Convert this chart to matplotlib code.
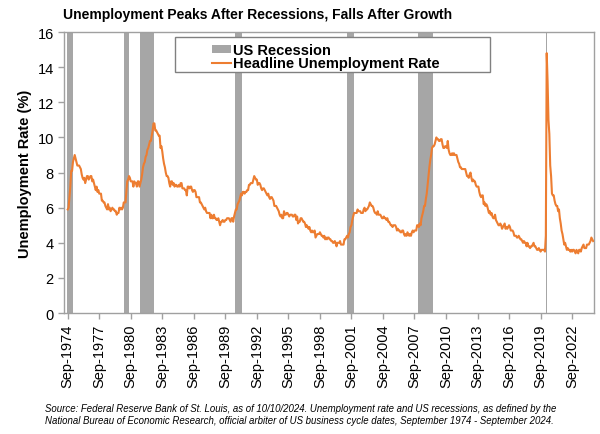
import matplotlib
matplotlib.use("Agg")
import matplotlib.pyplot as plt
from matplotlib.patches import Rectangle, Patch
from matplotlib.lines import Line2D
import numpy as np

plt.rcParams['font.family'] = ['Liberation Sans', 'DejaVu Sans']

# Monthly headline unemployment rate (%), Sep-1974 .. Sep-2024
unrate_1974 = [5.9, 6.0, 6.6, 7.2]
unrate_by_year = {
    1975: [8.1, 8.1, 8.6, 8.8, 9.0, 8.8, 8.6, 8.4, 8.4, 8.4, 8.3, 8.2],
    1976: [7.9, 7.7, 7.6, 7.7, 7.4, 7.6, 7.8, 7.8, 7.6, 7.7, 7.8, 7.8],
    1977: [7.5, 7.6, 7.4, 7.2, 7.0, 7.2, 6.9, 7.0, 6.8, 6.8, 6.8, 6.4],
    1978: [6.4, 6.3, 6.3, 6.1, 6.0, 5.9, 6.2, 5.9, 6.0, 5.8, 5.9, 6.0],
    1979: [5.9, 5.9, 5.8, 5.8, 5.6, 5.7, 5.7, 6.0, 5.9, 6.0, 5.9, 6.0],
    1980: [6.3, 6.3, 6.3, 6.9, 7.5, 7.6, 7.8, 7.7, 7.5, 7.5, 7.5, 7.2],
    1981: [7.5, 7.4, 7.4, 7.2, 7.5, 7.5, 7.2, 7.4, 7.6, 7.9, 8.3, 8.5],
    1982: [8.6, 8.9, 9.0, 9.3, 9.4, 9.6, 9.8, 9.8, 10.1, 10.4, 10.8, 10.8],
    1983: [10.4, 10.4, 10.3, 10.2, 10.1, 10.1, 9.4, 9.5, 9.2, 8.8, 8.5, 8.3],
    1984: [8.0, 7.8, 7.8, 7.7, 7.4, 7.2, 7.5, 7.5, 7.3, 7.4, 7.2, 7.3],
    1985: [7.3, 7.2, 7.2, 7.3, 7.2, 7.4, 7.4, 7.1, 7.1, 7.1, 7.0, 7.0],
    1986: [6.7, 7.2, 7.2, 7.1, 7.2, 7.2, 7.0, 6.9, 7.0, 7.0, 6.9, 6.6],
    1987: [6.6, 6.6, 6.6, 6.3, 6.3, 6.2, 6.1, 6.0, 5.9, 6.0, 5.8, 5.7],
    1988: [5.7, 5.7, 5.7, 5.4, 5.6, 5.4, 5.4, 5.6, 5.4, 5.4, 5.3, 5.3],
    1989: [5.4, 5.2, 5.0, 5.2, 5.2, 5.3, 5.2, 5.2, 5.3, 5.3, 5.4, 5.4],
    1990: [5.4, 5.3, 5.2, 5.4, 5.4, 5.2, 5.5, 5.7, 5.9, 5.9, 6.2, 6.3],
    1991: [6.4, 6.6, 6.8, 6.7, 6.9, 6.9, 6.8, 6.9, 6.9, 7.0, 7.0, 7.3],
    1992: [7.3, 7.4, 7.4, 7.4, 7.6, 7.8, 7.7, 7.6, 7.6, 7.3, 7.4, 7.4],
    1993: [7.3, 7.1, 7.0, 7.1, 7.1, 7.0, 6.9, 6.8, 6.7, 6.8, 6.6, 6.5],
    1994: [6.6, 6.6, 6.5, 6.4, 6.1, 6.1, 6.1, 6.0, 5.9, 5.8, 5.6, 5.5],
    1995: [5.6, 5.4, 5.4, 5.8, 5.6, 5.6, 5.7, 5.7, 5.6, 5.5, 5.6, 5.6],
    1996: [5.6, 5.5, 5.5, 5.6, 5.6, 5.3, 5.5, 5.1, 5.2, 5.2, 5.4, 5.4],
    1997: [5.3, 5.2, 5.2, 5.1, 4.9, 5.0, 4.9, 4.8, 4.9, 4.7, 4.6, 4.7],
    1998: [4.6, 4.6, 4.7, 4.3, 4.4, 4.5, 4.5, 4.5, 4.6, 4.5, 4.4, 4.4],
    1999: [4.3, 4.4, 4.2, 4.3, 4.2, 4.3, 4.3, 4.2, 4.2, 4.1, 4.1, 4.0],
    2000: [4.0, 4.1, 4.0, 3.8, 4.0, 4.0, 4.0, 4.1, 3.9, 3.9, 3.9, 3.9],
    2001: [4.2, 4.2, 4.3, 4.4, 4.3, 4.5, 4.6, 4.9, 5.0, 5.3, 5.5, 5.7],
    2002: [5.7, 5.7, 5.7, 5.9, 5.8, 5.8, 5.8, 5.7, 5.7, 5.7, 5.9, 6.0],
    2003: [5.8, 5.9, 5.9, 6.0, 6.1, 6.3, 6.2, 6.1, 6.1, 6.0, 5.8, 5.7],
    2004: [5.7, 5.6, 5.8, 5.6, 5.6, 5.6, 5.5, 5.4, 5.4, 5.5, 5.4, 5.4],
    2005: [5.3, 5.4, 5.2, 5.2, 5.1, 5.0, 5.0, 4.9, 5.0, 5.0, 5.0, 4.9],
    2006: [4.7, 4.8, 4.7, 4.7, 4.6, 4.6, 4.7, 4.7, 4.5, 4.4, 4.5, 4.4],
    2007: [4.6, 4.5, 4.4, 4.5, 4.4, 4.6, 4.7, 4.6, 4.7, 4.7, 4.7, 5.0],
    2008: [5.0, 4.9, 5.1, 5.0, 5.4, 5.6, 5.8, 6.1, 6.1, 6.5, 6.8, 7.3],
    2009: [7.8, 8.3, 8.7, 9.0, 9.4, 9.5, 9.5, 9.6, 9.8, 10.0, 9.9, 9.9],
    2010: [9.8, 9.8, 9.9, 9.9, 9.6, 9.4, 9.4, 9.5, 9.5, 9.4, 9.8, 9.3],
    2011: [9.1, 9.0, 9.0, 9.1, 9.0, 9.1, 9.0, 9.0, 9.0, 8.8, 8.6, 8.5],
    2012: [8.3, 8.3, 8.2, 8.2, 8.2, 8.2, 8.2, 8.0, 7.8, 7.8, 7.7, 7.9],
    2013: [8.0, 7.7, 7.5, 7.6, 7.5, 7.5, 7.3, 7.2, 7.2, 7.2, 6.9, 6.7],
    2014: [6.6, 6.7, 6.7, 6.2, 6.3, 6.1, 6.2, 6.1, 5.9, 5.7, 5.8, 5.6],
    2015: [5.7, 5.5, 5.4, 5.4, 5.6, 5.3, 5.2, 5.1, 5.0, 5.0, 5.1, 5.0],
    2016: [4.8, 4.9, 5.0, 5.1, 4.8, 4.9, 4.8, 4.9, 5.0, 4.9, 4.7, 4.7],
    2017: [4.7, 4.6, 4.4, 4.4, 4.4, 4.3, 4.3, 4.4, 4.3, 4.2, 4.2, 4.1],
    2018: [4.0, 4.1, 4.0, 4.0, 3.8, 4.0, 3.8, 3.8, 3.7, 3.8, 3.8, 3.9],
    2019: [4.0, 3.8, 3.8, 3.7, 3.6, 3.6, 3.7, 3.6, 3.5, 3.6, 3.6, 3.6],
    2020: [3.6, 3.5, 4.4, 14.8, 13.2, 11.0, 10.2, 8.4, 7.8, 6.8, 6.7, 6.7],
    2021: [6.4, 6.2, 6.1, 6.1, 5.8, 5.9, 5.4, 5.1, 4.7, 4.5, 4.2, 3.9],
    2022: [4.0, 3.8, 3.6, 3.7, 3.6, 3.6, 3.5, 3.6, 3.5, 3.6, 3.6, 3.5],
    2023: [3.4, 3.6, 3.5, 3.4, 3.6, 3.6, 3.5, 3.7, 3.8, 3.9, 3.7, 3.7],
    2024: [3.7, 3.9, 3.9, 3.9, 4.0, 4.1, 4.3, 4.2, 4.1],
}
unrate = list(unrate_1974)
for yr in sorted(unrate_by_year):
    unrate += unrate_by_year[yr]

# NBER recession periods (first month, last month) within the window
recession_start = ["1974-09", "1980-02", "1981-08", "1990-08", "2001-04", "2008-01", "2020-04"]
recession_end = ["1975-03", "1980-07", "1982-11", "1991-03", "2001-11", "2009-06", "2020-04"]

start_year, start_month = 1974, 9
n = len(unrate)
months = [(start_year + (start_month - 1 + i) // 12, (start_month - 1 + i) % 12 + 1) for i in range(n)]
mnames = ["Jan", "Feb", "Mar", "Apr", "May", "Jun", "Jul", "Aug", "Sep", "Oct", "Nov", "Dec"]
labels = [f"{mnames[m-1]}-{y}" for (y, m) in months]

def ym(s):
    y, m = s.split("-")
    return int(y), int(m)

rec_flag = []
for (y, m) in months:
    inrec = any(ym(a) <= (y, m) <= ym(b) for a, b in zip(recession_start, recession_end))
    rec_flag.append(16 if inrec else 0)

x = np.arange(n)

fig = plt.figure(figsize=(6, 4.35), dpi=100)
ax = fig.add_axes([0.107, 0.278, 0.883, 0.646])

rec_color = "#A6A6A6"
line_color = "#ED7D31"
ax.bar(x, rec_flag, width=1.0, color=rec_color, edgecolor="none", zorder=1)
ax.plot(x, unrate, color=line_color, lw=1.5, zorder=3)

ax.set_ylim(0, 16)
ax.set_yticks(np.arange(0, 17, 2))
ax.set_xlim(-4, n)
tick_idx = list(range(0, n, 36))
ax.set_xticks(tick_idx)
ax.set_xticklabels([labels[i] for i in tick_idx], rotation=90, fontsize=10.5)
ax.tick_params(axis='y', labelsize=10.5)
ax.tick_params(axis='both', color="#A0A0A0", length=4, width=1)
for s in ax.spines.values():
    s.set_color("#A0A0A0")
    s.set_linewidth(1)

ax.set_ylabel("Unemployment Rate (%)", fontsize=10.5, fontweight='bold', labelpad=4)

fig.text(0.43, 0.965, "Unemployment Peaks After Recessions, Falls After Growth",
         ha='center', va='center', fontsize=10, fontweight='bold')

# Legend box
box = Rectangle((175/600, 1 - 73/435), (490-175)/600, (73-38)/435, transform=fig.transFigure,
                facecolor='white', edgecolor='#808080', lw=1, zorder=5)
fig.patches.append(box)
handles = [Patch(facecolor=rec_color, edgecolor='none'),
           Line2D([0], [0], color=line_color, lw=1.5)]
leg = fig.legend(handles, ["US Recession", "Headline Unemployment Rate"],
                 loc='upper left', bbox_to_anchor=(202/600, 1 - 34/435),
                 frameon=False, prop={'weight': 'bold', 'size': 10.5},
                 handlelength=1.3, handleheight=0.5, handletextpad=0.1,
                 labelspacing=-0.05, borderpad=0.2)
leg.set_zorder(6)

src = ("Source: Federal Reserve Bank of St. Louis, as of 10/10/2024. Unemployment rate and US recessions, as defined by the\n"
       "National Bureau of Economic Research, official arbiter of US business cycle dates, September 1974 - September 2024.")
fig.text(45/600, 1 - 404/435, src, ha='left', va='top', fontsize=6.9, style='italic', linespacing=1.25)

fig.savefig("out.png", dpi=100)
